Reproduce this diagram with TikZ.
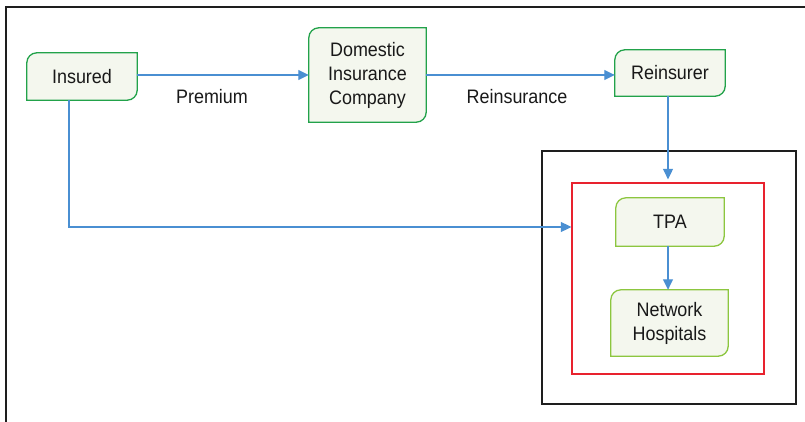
\documentclass[tikz,border=0pt]{standalone}
\usepackage{fontspec}
\setmainfont[FakeStretch=0.92]{Liberation Sans}
\usetikzlibrary{backgrounds,arrows.meta}
\definecolor{gfill}{HTML}{F4F7EE}
\definecolor{gdark}{HTML}{22A24A}
\definecolor{glight}{HTML}{8CC63F}
\definecolor{arr}{HTML}{4A8FD2}
\definecolor{rbox}{HTML}{E8222E}
\definecolor{frame}{HTML}{1E1E1E}
\tikzset{
  box/.style={draw=none, inner sep=0pt, align=center, font=\fontsize{19.5}{24}\selectfont, text=black!90},
  conn/.style={draw=arr, line width=1.3pt, -{Triangle[length=10.5pt,width=10pt]}},
  lbl/.style={font=\fontsize{19.5}{24}\selectfont, text=black!90, inner sep=0pt},
}
\newcommand{\leafshape}[2]{%
  \begin{scope}[on background layer]
  \draw[draw=#2, fill=gfill, line width=1.3pt]
    ([yshift=-10pt]#1.north west) arc[start angle=180,end angle=90,radius=10pt]
    -- (#1.north east) -- ([yshift=10pt]#1.south east)
    arc[start angle=0,end angle=-90,radius=10pt] -- (#1.south west) -- cycle;
  \end{scope}}
\begin{document}
\begin{tikzpicture}[x=1pt,y=1pt]
\useasboundingbox (0,0) rectangle (805,-422);
\draw[frame, line width=1.6pt] (6,-422) -- (6,-7) -- (805,-7);
% containers
\node[draw=frame, line width=1.3pt, minimum width=254pt, minimum height=253pt, inner sep=0pt] (blk) at (669,-277.5) {};
\node[draw=rbox, line width=1.3pt, minimum width=192pt, minimum height=191pt, inner sep=0pt] (red) at (668,-278.5) {};
% nodes
\node[box, minimum width=110pt, minimum height=47pt] (ins) at (82,-76.5) {Insured};
\node[box, minimum width=117pt, minimum height=94pt] (dom) at (367.5,-75) {Domestic\\Insurance\\Company};
\node[box, minimum width=110pt, minimum height=46pt] (rein) at (670,-73) {Reinsurer};
\node[box, minimum width=108pt, minimum height=48pt] (tpa) at (670,-222) {TPA};
\node[box, minimum width=117pt, minimum height=66pt] (net) at (669.5,-323) {Network\\Hospitals};
\leafshape{ins}{gdark}
\leafshape{dom}{gdark}
\leafshape{rein}{gdark}
\leafshape{tpa}{glight}
\leafshape{net}{glight}
% labels
\node[lbl] (prem) at (212,-97) {Premium};
\node[lbl] (reins) at (517,-97) {Reinsurance};
% connectors
\draw[conn] (ins.east |- dom.west) -- (dom.west);
\draw[conn] (dom.east) -- (dom.east -| rein.west);
\coordinate (insb) at ([xshift=-13pt]ins.south);
\coordinate (hit) at (red.west |- 0,-227);
\draw[conn] (insb) |- (hit);
\coordinate (reinb) at ([xshift=-2pt]rein.south);
\draw[conn] (reinb) -- ([yshift=3pt]reinb |- red.north);
\coordinate (tpab) at ([xshift=-2pt]tpa.south);
\draw[conn] (tpab) -- (tpab |- net.north);
\end{tikzpicture}
\end{document}
